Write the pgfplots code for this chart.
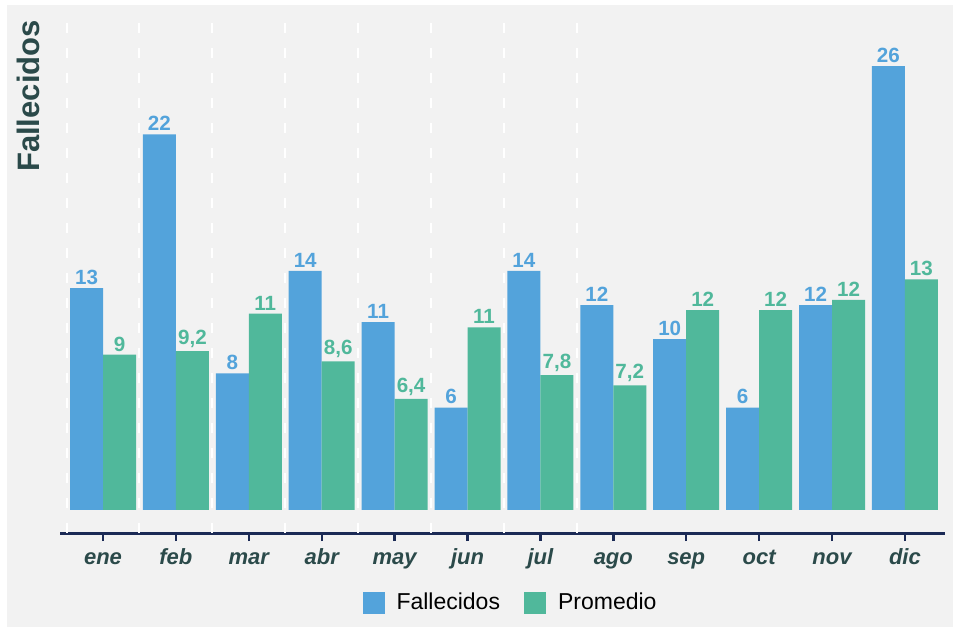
\documentclass[border=0pt]{standalone}
\usepackage{pgfplots}
\pgfplotsset{compat=1.18}
\usepackage{pgfplotstable}
\usepackage{fontspec}
\setmainfont{Liberation Sans}
\definecolor{bg}{HTML}{F2F2F2}
\definecolor{cblue}{HTML}{53A3DB}
\definecolor{cgreen}{HTML}{50B89B}
\definecolor{navy}{HTML}{1B2A55}
\definecolor{slate}{HTML}{2B4A4A}

\pgfplotstableread{
x y lab
0 13 13
1 22 22
2 8 8
3 14 14
4 11 11
5 6 6
6 14 14
7 12 12
8 10 10
9 6 6
10 12 12
11 26 26
}\fall

\pgfplotstableread{
x y lab
0 9.1 9
1 9.3 9,2
2 11.5 11
3 8.7 8,6
4 6.5 6,4
5 10.7 11
6 7.9 7,8
7 7.3 7,2
8 11.7 12
9 11.7 12
10 12.3 12
11 13.5 13
}\prom

\begin{document}
\begin{tikzpicture}
\fill[white] (-30pt,-48pt) rectangle (446.5pt,266.5pt);
\fill[bg] (-26.5pt,-47pt) rectangle (446.5pt,264pt);
\begin{axis}[
 at={(0,0)}, anchor=south west,
 scale only axis, width=442.5pt, height=256.5pt,
 xmin=-0.59, xmax=11.55, ymin=-1.35, ymax=28.7,
 ybar=0pt, bar width=16.5pt,
 axis x line*=bottom, axis y line=none,
 x axis line style={navy, line width=1.5pt, -},
 xtick={0,...,11},
 xticklabels={ene,feb,mar,abr,may,jun,jul,ago,sep,oct,nov,dic},
 xticklabel style={font=\bfseries\itshape\fontsize{11}{13}\selectfont, text=slate,
   text height=8pt, text depth=2.5pt},
 tick align=outside, major tick length=4pt,
 xtick style={navy, line width=1.2pt},
 extra x ticks={-0.5,0.5,1.5,2.5,3.5,4.5,5.5,6.5},
 extra x tick labels={},
 extra x tick style={grid=major, major tick length=0pt,
   major grid style={white, line width=1pt, dash pattern=on 5pt off 7.5pt}},
 nodes near coords={\pgfplotspointmeta},
 point meta=explicit symbolic,
 every node near coord/.append style={font=\bfseries\fontsize{10.3}{12}\selectfont, inner sep=1.5pt},
 legend style={at={(0.5,-0.1365)}, anchor=center, xshift=4.5pt, draw=none, fill=none,
   legend columns=2, font=\fontsize{11.5}{13}\selectfont,
   inner sep=0pt, outer sep=0pt,
   /tikz/every odd column/.append style={column sep=4pt},
   /tikz/every even column/.append style={column sep=10pt}},
 legend image code/.code={\fill[#1, draw=none] (0pt,-5.5pt) rectangle (11pt,5.5pt);},
]
\addplot[fill=cblue, draw=none, every node near coord/.append style={text=cblue}]
  table[x=x, y=y, meta=lab] {\fall};
\addlegendentry{Fallecidos}
\addplot[fill=cgreen, draw=none, every node near coord/.append style={text=cgreen}]
  table[x=x, y=y, meta=lab] {\prom};
\addlegendentry{Promedio}
\end{axis}
\node[rotate=90, font=\bfseries\fontsize{15.5}{18}\selectfont, text=slate] at (-16pt,218.5pt) {Fallecidos};
\end{tikzpicture}
\end{document}
